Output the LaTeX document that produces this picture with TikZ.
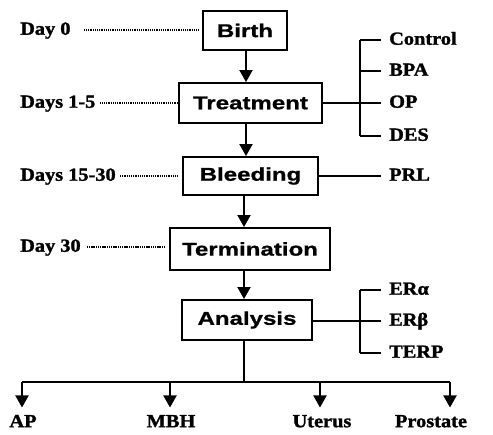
\documentclass[tikz,border=0pt]{standalone}
\usepackage{fontspec}
\setmainfont[FakeStretch=1.1,FakeBold=1.5]{Liberation Serif}
\newfontfamily\boxfont[FakeStretch=1.3,FakeBold=1]{Liberation Sans}
\usetikzlibrary{arrows.meta}
\begin{document}
\begin{tikzpicture}[x=1pt,y=-1pt,
  stagebox/.style={draw,line width=1.9pt,minimum height=40pt,inner sep=0pt,
    font=\boxfont\bfseries\fontsize{18.5}{20}\selectfont},
  lab/.style={inner sep=0pt,font=\bfseries\fontsize{18.5}{20}\selectfont,text height=12.5pt,text depth=3pt},
  arr/.style={line width=1.9pt,-{Triangle[width=13pt,length=12pt]}},
  dots/.style={line width=1.3pt,dash pattern=on 1.3pt off 0.9pt},
  brack/.style={line width=1.7pt},
  link/.style={line width=1.4pt}]
\useasboundingbox (0,0) rectangle (493,435);
% stages
\node[stagebox,minimum width=84pt,minimum height=39pt] (birth) at (245,30.5) {Birth};
\node[stagebox,minimum width=143pt] (treat) at (250.5,103) {Treatment};
\node[stagebox,minimum width=135pt,minimum height=38pt] (bleed) at (250.5,176) {Bleeding};
\node[stagebox,minimum width=160pt,minimum height=42pt] (term) at (250,249) {Termination};
\node[stagebox,minimum width=130pt] (anal) at (247,320) {Analysis};
\coordinate (ax1) at (246,0);
\coordinate (ax2) at (244,0);
\draw[arr] (birth.south -| ax1) -- (treat.north -| ax1);
\draw[arr] (treat.south -| ax1) -- (bleed.north -| ax1);
\draw[arr] (bleed.south -| ax2) -- (term.north -| ax2);
\draw[arr] (term.south -| ax2) -- (anal.north -| ax2);
% left day labels
\node[lab,anchor=west] (d0) at (20,30) {Day 0};
\node[lab,anchor=west] (d1) at (20,103) {Days 1-5};
\node[lab,anchor=west] (d15) at (20,176) {Days 15-30};
\node[lab,anchor=west] (d30) at (20,247) {Day 30};
\draw[dots,shorten <=13pt,shorten >=3pt] (d0.east) -- (birth.west |- d0.east);
\draw[dots,shorten <=4pt,shorten >=1pt] (d1.east) -- (treat.west |- d1.east);
\draw[dots,shorten <=4pt,shorten >=3pt] (d15.east) -- (bleed.west |- d15.east);
\draw[dots,shorten <=6pt,shorten >=3pt] (d30.east) -- (term.west |- d30.east);
% treatment groups
\node[lab,anchor=west] (ctrl) at (389,40) {Control};
\node[lab,anchor=west] (bpa) at (389,71) {BPA};
\node[lab,anchor=west] (op) at (389,103) {OP};
\node[lab,anchor=west] (des) at (389,136) {DES};
\coordinate (b1) at (360,0);
\draw[brack] (ctrl.west -| b1) -- (des.west -| b1);
\draw[brack,shorten >=8pt] (ctrl.west -| b1) -- (ctrl.west);
\draw[brack,shorten >=8pt] (bpa.west -| b1) -- (bpa.west);
\draw[brack,shorten >=8pt] (des.west -| b1) -- (des.west);
\draw[link,shorten >=8pt] (treat.east |- op.west) -- (op.west);
% PRL
\node[lab,anchor=west] (prl) at (389,176) {PRL};
\draw[link,shorten >=8pt] (bleed.east |- prl.west) -- (prl.west);
% analysis targets
\node[lab,anchor=west] (era) at (389,290) {ERα};
\node[lab,anchor=west] (erb) at (389,321) {ERβ};
\node[lab,anchor=west] (terp) at (389,353) {TERP};
\draw[brack] (era.west -| b1) -- (terp.west -| b1);
\draw[brack,shorten >=8pt] (era.west -| b1) -- (era.west);
\draw[brack,shorten >=8pt] (terp.west -| b1) -- (terp.west);
\draw[link,shorten >=8pt] (anal.east |- erb.west) -- (erb.west);
% tissues
\node[lab,anchor=north] (ap) at (23,414.5) {AP};
\node[lab,anchor=north] (mbh) at (171,414.5) {MBH};
\node[lab,anchor=north] (ut) at (322,414.5) {Uterus};
\node[lab,anchor=north] (pr) at (431,414.5) {Prostate};
\coordinate (bus) at (0,382);
\coordinate (xap) at (22,0);
\coordinate (xmbh) at (170,0);
\coordinate (xut) at (320,0);
\coordinate (xpr) at (450,0);
\draw[line width=1.9pt] (anal.south -| ax2) -- (bus -| ax2);
\draw[line width=1.9pt] (bus -| xap) -- (bus -| xpr);
\draw[arr,shorten >=7pt] (bus -| xap) -- (ap.north -| xap);
\draw[arr,shorten >=7pt] (bus -| xmbh) -- (mbh.north -| xmbh);
\draw[arr,shorten >=7pt] (bus -| xut) -- (ut.north -| xut);
\draw[arr,shorten >=7pt] (bus -| xpr) -- (pr.north -| xpr);
\end{tikzpicture}
\end{document}
